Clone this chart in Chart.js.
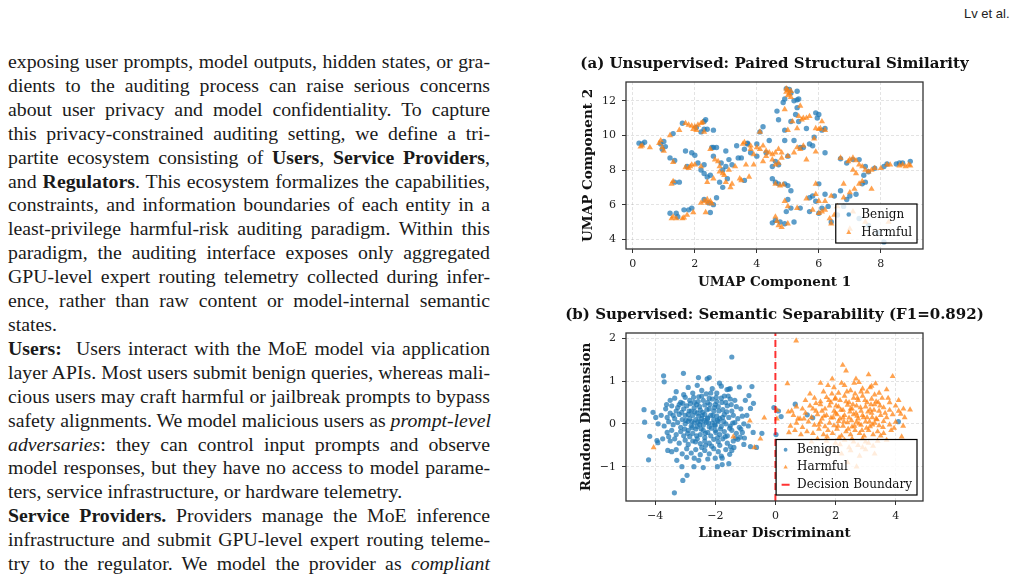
<!DOCTYPE html>
<html lang="en">
<head>
<meta charset="UTF-8">
<title>Unsupervised vs supervised separability of routing telemetry</title>
<script src="https://cdn.jsdelivr.net/npm/chart.js@4.4.1/dist/chart.umd.min.js"></script>
<style>
  html, body { margin: 0; padding: 0; background: #fff; }
  body { width: 1021px; height: 575px; overflow: hidden; position: relative; }
  .running-head {
    position: absolute; left: 964px; top: 6px;
    font-family: 'Liberation Sans', sans-serif; font-size: 13px; color: #222;
  }
  .column {
    position: absolute; left: 8px; top: 50px; width: 482px;
    font-family: 'Liberation Serif', serif; font-size: 19.8px; line-height: 23.9px; color: #1a1a1a;
  }
  .column div { text-align: justify; text-align-last: justify; white-space: nowrap; }
  .column div.end { text-align-last: left; }
  canvas { position: absolute; }
</style>
</head>
<body>
<div class="running-head">Lv et al.</div>

<div class="column">
  <div>exposing user prompts, model outputs, hidden states, or gra-</div>
  <div>dients to the auditing process can raise serious concerns</div>
  <div>about user privacy and model confidentiality. To capture</div>
  <div>this privacy-constrained auditing setting, we define a tri-</div>
  <div>partite ecosystem consisting of <b>Users</b>, <b>Service Providers</b>,</div>
  <div>and <b>Regulators</b>. This ecosystem formalizes the capabilities,</div>
  <div>constraints, and information boundaries of each entity in a</div>
  <div>least-privilege harmful-risk auditing paradigm. Within this</div>
  <div>paradigm, the auditing interface exposes only aggregated</div>
  <div>GPU-level expert routing telemetry collected during infer-</div>
  <div>ence, rather than raw content or model-internal semantic</div>
  <div class="end">states.</div>
  <div><b>Users:</b>&nbsp; Users interact with the MoE model via application</div>
  <div>layer APIs. Most users submit benign queries, whereas mali-</div>
  <div>cious users may craft harmful or jailbreak prompts to bypass</div>
  <div>safety alignments. We model malicious users as <i>prompt-level</i></div>
  <div><i>adversaries</i>: they can control input prompts and observe</div>
  <div>model responses, but they have no access to model parame-</div>
  <div class="end">ters, service infrastructure, or hardware telemetry.</div>
  <div><b>Service Providers.</b> Providers manage the MoE inference</div>
  <div>infrastructure and submit GPU-level expert routing teleme-</div>
  <div>try to the regulator. We model the provider as <i>compliant</i></div>
</div>

<canvas id="umapChart" width="445" height="250" style="left:555px; top:50px;"></canvas>
<canvas id="ldaChart" width="445" height="250" style="left:555px; top:300px;"></canvas>

<script>
// ---- (a) UMAP embedding, [component 1, component 2]
const umapBenign = [
  [0.2,9.55],[0.3,9.5],[0.38,9.6],[0.9,9.5],[1.0,9.65],[0.95,9.2],[1.05,9.35],[1.2,8.7],[1.35,8.55],[1.3,10.1],
  [1.6,10.7],[2.05,10.45],[2.3,10.8],[2.35,10.9],[2.2,10.2],[2.3,10.35],[2.4,10.35],[2.6,10.3],
  [1.75,8.2],[1.9,9.0],[1.7,9.1],[1.35,7.3],[1.5,7.3],
  [1.2,5.5],[1.4,5.5],[1.65,5.7],[1.8,5.7],[1.9,5.8],[1.45,5.3],
  [2.3,6.3],[2.45,6.1],[2.6,6.0],[2.7,6.4],[2.5,5.55],
  [2.0,8.85],[2.1,8.4],[2.2,8.0],[2.3,7.8],[2.4,7.6],[2.5,7.7],[2.6,8.8],[2.6,9.3],[2.7,9.3],[2.85,8.4],
  [2.9,8.0],[3.0,8.2],[3.0,9.1],[3.1,8.6],[3.2,8.3],[3.35,9.4],[3.4,8.7],[3.5,8.7],[3.6,9.2],[3.6,7.4],
  [3.7,9.5],[2.8,7.3],[2.9,7.0],[3.05,7.5],[2.3,8.3],[2.55,9.3],[3.8,9.0],
  [3.7,9.55],[4.0,9.5],[4.0,8.8],[4.1,10.2],[4.2,10.5],[4.4,9.7],[4.5,8.2],[4.7,8.3],[4.6,8.5],[4.9,9.7],
  [5.0,8.8],[5.2,9.7],[5.4,9.3],[5.5,9.3],[5.7,9.5],[4.9,10.3],[4.3,9.0],
  [4.95,12.7],[5.05,12.65],[5.1,12.45],[5.3,12.55],[4.85,11.9],[4.9,12.1],[4.65,11.4],[4.7,10.9],
  [5.2,12.0],[5.3,12.05],[5.35,12.1],[5.3,11.6],[5.25,11.2],[5.35,10.8],[5.1,10.8],[5.6,10.4],
  [5.9,11.3],[6.0,11.2],[5.95,11.0],[6.1,10.3],[6.2,10.4],[5.85,9.9],[5.8,9.4],[6.2,9.0],
  [6.7,8.65],[6.9,8.4],[7.1,8.6],[7.3,8.6],[7.5,8.2],[7.6,7.9],[7.8,8.1],[8.1,8.2],[8.2,8.35],[8.5,8.35],
  [8.6,8.4],[8.7,8.4],[8.95,8.5],[7.45,7.7],[7.5,7.3],
  [4.5,7.5],[4.6,7.3],[4.7,7.2],[4.9,7.2],[5.0,7.1],[5.1,6.8],[5.0,6.3],[4.95,5.6],[5.1,5.8],[5.4,5.8],
  [5.7,6.4],[5.8,6.5],[5.9,6.2],[6.0,7.2],[6.2,6.6],[6.1,5.8],[6.3,5.9],[6.5,6.5],[6.7,6.8],[6.9,6.3],
  [7.0,6.5],[7.2,6.6],[7.4,7.2],[6.8,5.9],[6.4,5.0],[6.6,5.4],[4.5,4.95],[4.6,5.1],[4.75,5.0],[4.9,4.9],
  [5.2,5.0],[8.1,3.85],[6.0,5.5],[5.7,5.6],[7.3,5.2],[7.6,4.8],[7.9,4.4]
];
const umapHarmful = [
  [0.25,9.35],[0.3,9.4],[0.55,9.3],[0.85,9.55],[0.9,9.7],[0.95,9.3],[1.0,9.1],[1.3,8.45],[1.2,10.0],[1.5,10.3],
  [1.7,10.7],[1.8,10.6],[1.9,10.55],[2.0,10.5],[2.1,10.6],[2.2,10.7],[2.25,10.75],[1.95,10.35],[2.05,10.3],[2.3,10.2],
  [1.7,8.15],[1.8,8.1],[1.85,8.2],[1.9,8.3],[1.25,7.2],[1.3,7.35],
  [1.3,5.3],[1.4,5.2],[1.65,5.25],[1.75,5.4],[1.95,5.55],[1.25,5.2],[1.6,5.2],
  [2.2,6.1],[2.3,6.2],[2.4,6.3],[2.5,6.2],[2.55,6.05],[2.35,5.55],[2.4,6.1],
  [2.0,8.3],[2.2,8.2],[2.4,7.3],[2.5,9.2],[2.65,8.6],[2.75,8.5],[2.8,7.9],[2.95,7.7],[3.0,7.3],[3.1,8.0],
  [3.15,7.0],[3.3,8.2],[3.45,7.5],[3.55,9.5],[3.65,8.3],[3.75,7.6],[3.8,9.2],[3.9,8.3],[2.6,7.5],[3.2,7.2],
  [2.8,8.2],[3.5,7.4],[2.9,7.8],
  [4.0,9.3],[4.1,9.2],[4.2,9.4],[4.3,9.1],[4.4,9.0],[4.5,8.9],[4.6,9.0],[4.7,9.2],[4.8,9.0],[4.3,8.8],
  [4.2,8.5],[4.5,8.6],[4.7,8.4],[4.8,8.7],[5.0,8.8],[5.2,9.0],[5.3,9.3],[5.4,9.2],[5.5,9.4],[3.6,9.6],
  [3.8,9.4],[3.9,8.9],[4.6,8.3],[4.1,10.2],
  [4.95,12.5],[5.0,12.6],[5.05,12.4],[5.1,12.55],[5.0,12.3],[4.95,12.7],[5.1,12.2],[4.9,11.5],
  [5.4,11.7],[5.35,11.1],[5.45,10.9],[5.5,11.0],[5.6,11.0],[5.7,11.1],[5.3,10.4],[5.0,10.3],[5.15,10.8],
  [5.9,10.4],[6.0,10.35],[6.1,10.8],[6.2,10.3],[5.85,9.8],[5.9,9.05],[6.05,10.4],[5.6,8.6],
  [6.7,8.7],[6.95,8.5],[7.0,8.6],[7.1,8.7],[7.2,8.55],[7.3,8.3],[7.4,8.2],[7.5,8.0],[7.6,7.9],[7.7,8.0],
  [7.8,8.1],[8.0,8.1],[8.2,8.3],[8.3,8.3],[8.6,8.25],[8.7,8.3],[8.8,8.2],[8.9,8.3],[8.95,8.25],[7.1,8.0],[7.2,7.8],
  [4.6,7.2],[4.75,7.1],[4.85,7.15],[4.6,5.3],[4.7,4.8],[4.8,4.7],[4.65,5.05],[4.9,6.2],[5.0,5.9],[5.3,5.8],
  [5.6,6.35],[5.8,5.7],[6.0,5.5],[6.1,5.6],[6.2,5.7],[6.35,5.2],[6.4,4.9],[6.5,5.4],[6.6,5.9],[6.8,6.4],
  [7.0,6.7],[7.15,6.9],[7.3,7.2],[7.4,7.35],[6.0,6.2],[6.2,6.2],[6.4,6.5],[5.9,6.6],[7.7,6.9],[8.25,5.0],
  [5.9,7.2],[5.0,4.9],[6.8,7.2],[7.1,5.6],[7.5,5.0],[7.0,4.6]
];
const umapXTicks = [0, 2, 4, 6, 8];
const umapYTicks = [4, 6, 8, 10, 12];
const umapXRange = [-0.22, 9.36];
const umapYRange = [3.44, 13.08];

// ---- (b) LDA projection, [linear discriminant, random dimension]
const ldaBenign = [
  [-1.45,1.56],[-3.72,1.12],[-3.7,0.98],[-3.06,1.18],[-2.56,1.08],[-2.27,1.05],[-2.2,1.08],[-1.86,0.95],
  [-1.61,0.8],[-1.55,0.81],[-1.5,0.82],[-1.2,0.86],[-0.78,0.87],[-0.88,0.66],[-0.73,0.48],[-0.83,0.36],
  [-4.37,0.33],[-4.07,0.27],[-3.98,0.15],[-4.35,0.04],[-4.18,-0.29],[-3.94,-0.39],[-3.91,-0.44],[-4.22,-0.84],
  [-3.58,-0.62],[-3.28,-0.85],[-3.11,-1.0],[-3.08,-1.32],[-2.94,-1.2],[-3.36,-1.61],[-2.71,-1.0],[-2.4,-1.02],
  [-1.93,-1.0],[-1.77,-0.95],[-1.55,-0.93],[-1.77,-0.8],[-1.52,-0.71],[-1.5,-0.53],[-0.83,-0.53],[-0.63,-0.55],
  [-0.45,-0.22],[-1.05,-0.48],[-1.32,-0.33],[-1.17,-0.31],[-1.03,-0.33],[0.02,-0.25],[-0.74,-0.2],
  [-0.05,0.38],[0.1,0.3],[0.19,0.17],[0.66,0.46],[1.06,0.21],[1.24,0.14],[4.09,0.05],
  [-3.3,0.75],[-2.9,0.85],[-2.75,0.72],[-2.6,0.9],[-2.45,0.78],[-2.3,0.7],[-2.1,0.82],[-1.95,0.72],[-1.8,0.88],
  [-3.05,0.68],[-2.2,0.6],[-1.7,0.65],
  [-3.5,0.55],[-3.35,0.6],[-3.15,0.5],[-3.0,0.62],[-2.85,0.55],[-2.7,0.5],[-2.55,0.63],[-2.4,0.55],[-2.25,0.5],
  [-2.1,0.58],[-1.95,0.52],[-1.8,0.6],[-1.65,0.5],[-1.5,0.58],[-1.35,0.55],[-2.62,0.45],[-2.0,0.45],
  [-3.65,0.35],[-3.45,0.42],[-3.3,0.3],[-3.2,0.45],[-3.05,0.35],[-2.95,0.42],[-2.8,0.3],[-2.7,0.38],[-2.5,0.32],
  [-2.35,0.44],[-2.2,0.35],[-2.05,0.3],[-1.9,0.4],[-1.75,0.33],[-1.6,0.42],[-1.45,0.3],[-1.3,0.4],[-1.15,0.35],
  [-2.6,0.25],[-2.9,0.22],
  [-3.8,0.2],[-3.6,0.15],[-3.5,0.25],[-3.35,0.12],[-3.2,0.22],[-3.1,0.1],[-3.0,0.2],[-2.85,0.12],[-2.75,0.2],
  [-2.65,0.1],[-2.55,0.18],[-2.45,0.12],[-2.35,0.22],[-2.25,0.14],[-2.15,0.2],[-2.05,0.1],[-1.95,0.18],[-1.85,0.12],
  [-1.7,0.22],[-1.55,0.15],[-1.4,0.2],[-1.25,0.12],[-1.1,0.18],[-0.95,0.2],
  [-3.9,0.0],[-3.7,-0.05],[-3.55,0.05],[-3.4,-0.02],[-3.25,0.03],[-3.15,-0.08],[-3.0,0.0],[-2.9,0.06],[-2.8,-0.05],
  [-2.7,0.02],[-2.6,-0.06],[-2.5,0.05],[-2.4,-0.03],[-2.3,0.04],[-2.2,-0.07],[-2.1,0.02],[-2.0,-0.04],[-1.9,0.05],
  [-1.8,-0.06],[-1.65,0.0],[-1.5,-0.05],[-1.35,0.03],[-1.2,-0.08],[-1.05,0.0],[-0.9,-0.05],
  [-3.6,-0.2],[-3.45,-0.15],[-3.3,-0.25],[-3.15,-0.18],[-3.05,-0.28],[-2.9,-0.15],[-2.75,-0.22],[-2.65,-0.12],
  [-2.5,-0.25],[-2.4,-0.15],[-2.25,-0.2],[-2.15,-0.28],[-2.0,-0.15],[-1.85,-0.25],[-1.7,-0.18],[-1.6,-0.28],
  [-1.45,-0.15],[-1.3,-0.22],[-1.15,-0.12],[-2.85,-0.3],[-2.35,-0.32],
  [-3.5,-0.4],[-3.35,-0.35],[-3.2,-0.45],[-3.0,-0.38],[-2.9,-0.48],[-2.75,-0.4],[-2.6,-0.35],[-2.5,-0.46],
  [-2.35,-0.4],[-2.2,-0.45],[-2.05,-0.36],[-1.9,-0.42],[-1.75,-0.35],[-1.6,-0.45],[-1.4,-0.4],[-1.25,-0.36],[-2.45,-0.55],
  [-3.3,-0.6],[-3.1,-0.7],[-2.95,-0.58],[-2.8,-0.68],[-2.65,-0.6],[-2.5,-0.72],[-2.35,-0.62],[-2.2,-0.7],
  [-2.05,-0.58],[-1.9,-0.65],[-1.8,-0.75],[-1.65,-0.6],[-2.7,-0.8],[-2.25,-0.82],[-3.45,-0.65],[-1.45,-0.62],[-2.95,-0.78],
  [-3.25,0.38],[-3.12,0.27],[-2.98,0.08],[-2.83,0.47],[-2.77,-0.09],[-2.68,0.28],[-2.58,0.05],[-2.52,0.4],[-2.47,-0.12],
  [-2.42,0.27],[-2.37,0.08],[-2.33,-0.22],[-2.28,0.33],[-2.23,0.02],[-2.18,0.45],[-2.13,-0.1],[-2.08,0.2],[-2.03,0.38],
  [-1.98,-0.2],[-1.93,0.08],[-1.88,0.3],[-1.83,-0.12],[-1.78,0.5],[-1.72,0.05],[-1.67,-0.3],[-1.62,0.28],[-1.57,0.65],
  [-1.52,-0.1],[-1.47,0.45],[-1.42,0.02],[-2.92,-0.22],[-2.87,0.3],[-2.62,-0.28],[-2.57,0.52],[-2.32,-0.5],[-2.12,-0.52],
  [-1.97,0.62],[-2.72,0.62],[-3.02,-0.12],[-3.08,0.48],[-3.4,0.2],[-3.55,-0.3],[-2.45,0.65],[-2.15,0.72],[-1.85,-0.5],
  [-2.55,-0.85],[-2.0,-0.8],[-1.38,-0.55],[-1.1,-0.2],[-1.0,0.55],[-3.75,-0.35],[-3.62,0.45],[-2.78,0.05],[-2.52,-0.02],
  [-2.26,0.12],[-2.02,-0.02],[-1.76,0.15],[-2.44,0.2],[-2.66,-0.42],[-1.92,-0.32]
];
const ldaHarmful = [
  [0.69,1.94],[2.24,1.37],[2.35,1.24],[3.1,1.15],[3.9,1.11],[2.68,1.05],[2.78,0.97],[1.89,1.05],[3.33,0.94],
  [0.4,0.94],[1.5,0.95],[4.48,0.33],[4.26,0.35],[4.17,0.23],[4.3,0.15],[-4.05,-0.55],[-1.4,-0.3],[-0.7,-0.55],
  [-0.5,-0.35],[-0.37,0.14],[-0.85,0.07],[0.05,0.32],[0.05,0.12],[0.43,0.28],[0.54,0.3],[0.82,0.12],
  [1.6,0.75],[1.95,0.85],[2.1,0.72],[2.3,0.9],[2.5,0.78],[2.65,0.7],[2.9,0.82],[3.05,0.75],[3.2,0.88],
  [3.45,0.72],[2.2,0.95],[1.75,0.9],[3.7,0.8],
  [1.0,0.55],[1.3,0.6],[1.5,0.52],[1.7,0.62],[1.85,0.5],[2.0,0.6],[2.15,0.55],[2.3,0.65],[2.45,0.5],
  [2.6,0.6],[2.75,0.55],[2.9,0.65],[3.05,0.5],[3.2,0.58],[3.35,0.52],[3.55,0.6],[3.8,0.5],[4.1,0.55],
  [0.9,0.35],[1.15,0.42],[1.35,0.3],[1.5,0.45],[1.65,0.35],[1.8,0.42],[1.95,0.3],[2.1,0.4],[2.25,0.32],
  [2.4,0.44],[2.55,0.35],[2.7,0.42],[2.85,0.3],[3.0,0.4],[3.15,0.33],[3.3,0.45],[3.45,0.3],[3.6,0.38],
  [3.8,0.32],[4.0,0.42],
  [0.6,0.2],[0.75,0.12],[1.0,0.25],[1.2,0.15],[1.4,0.22],[1.55,0.12],[1.7,0.2],[1.85,0.14],[2.0,0.25],
  [2.15,0.12],[2.3,0.2],[2.45,0.14],[2.6,0.22],[2.75,0.12],[2.9,0.2],[3.05,0.15],[3.2,0.25],[3.35,0.12],
  [3.5,0.2],[3.7,0.15],[3.9,0.22],
  [0.5,-0.05],[0.7,0.02],[0.9,-0.08],[1.1,0.05],[1.3,-0.03],[1.5,0.04],[1.65,-0.06],[1.8,0.02],[1.95,-0.04],
  [2.1,0.06],[2.25,-0.05],[2.4,0.03],[2.55,-0.07],[2.7,0.04],[2.85,-0.03],[3.0,0.05],[3.15,-0.06],[3.3,0.02],
  [3.45,-0.04],[3.6,0.06],[3.8,-0.02],[4.0,0.04],[4.25,-0.05],
  [0.45,-0.2],[0.65,-0.15],[0.85,-0.25],[1.05,-0.18],[1.25,-0.22],[1.45,-0.12],[1.6,-0.25],[1.75,-0.15],
  [1.9,-0.22],[2.05,-0.12],[2.2,-0.28],[2.35,-0.18],[2.5,-0.25],[2.65,-0.15],[2.8,-0.22],[2.95,-0.28],
  [3.1,-0.15],[3.25,-0.25],[3.4,-0.18],[3.6,-0.22],[3.85,-0.15],[4.2,-0.3],
  [1.4,-0.35],[1.7,-0.4],[2.0,-0.45],[2.3,-0.38],[2.6,-0.42],[2.9,-0.35],[3.1,-0.45],[3.4,-0.4],[3.7,-0.38],
  [2.15,-0.48],[2.75,-0.5],[3.25,-0.52],[1.2,-0.42],
  [1.8,-0.6],[2.2,-0.7],[2.5,-0.62],[2.8,-0.75],[3.0,-0.6],[2.4,-0.9],[2.7,-1.0],[3.3,-0.7],
  [1.35,0.48],[1.55,0.3],[1.78,0.55],[1.92,0.15],[2.02,0.42],[2.08,-0.05],[2.18,0.32],[2.28,0.05],[2.35,0.52],
  [2.42,-0.12],[2.48,0.28],[2.53,0.08],[2.58,0.45],[2.63,-0.05],[2.68,0.25],[2.73,0.6],[2.78,0.0],[2.83,0.38],
  [2.88,-0.15],[2.93,0.15],[2.98,0.55],[3.03,-0.1],[3.08,0.28],[3.13,0.05],[3.18,0.45],[3.23,-0.02],[3.28,0.32],
  [3.38,0.1],[3.48,0.42],[3.58,-0.08],[3.65,0.25],[3.75,0.6],[3.95,-0.1],[4.1,0.3],[1.25,0.35],[1.45,-0.02],
  [1.62,0.18],[1.72,-0.3],[1.88,0.7],[2.12,-0.32],[2.38,0.75],[2.55,-0.35],[2.85,0.75],[3.0,-0.42],[3.3,0.68],
  [3.5,-0.28],[2.62,0.95],[3.15,0.85],[1.15,0.7],[0.95,0.12],[0.7,0.4],[2.45,-0.55],[2.9,-0.55],[2.25,0.15],
  [2.72,0.18],[3.22,0.15],[2.05,0.22],[3.42,0.5],[1.98,0.58],[2.5,0.35]
];
const ldaXTicks = [-4, -2, 0, 2, 4];
const ldaYTicks = [-1, 0, 1, 2];
const ldaXRange = [-4.97, 4.91];
const ldaYRange = [-1.80, 2.12];
const boundaryX = 0;

const BLUE = 'rgba(31,119,180,0.72)';
const ORANGE = 'rgba(255,127,14,0.72)';
const RED = 'rgba(255,0,0,0.8)';
const SERIF = '"DejaVu Serif", serif';

Chart.defaults.font.family = SERIF;
Chart.defaults.font.size = 11;
Chart.defaults.color = '#222';

const toPts = arr => arr.map(([x, y]) => ({ x, y }));
const minus = v => (v < 0 ? '\u2212' + Math.abs(v) : String(v));

// panel title, centred over the plotting area
const panelTitle = {
  id: 'panelTitle',
  afterDraw(chart, args, opts) {
    const { ctx, chartArea: ca } = chart;
    ctx.save();
    ctx.font = 'bold 15px ' + SERIF;
    ctx.fillStyle = '#111';
    ctx.textAlign = 'center';
    ctx.textBaseline = 'middle';
    ctx.fillText(opts.text, (ca.left + ca.right) / 2, opts.y);
    ctx.restore();
  }
};

// full box around the axes + legend in lower right corner
const frameLegend = {
  id: 'frameLegend',
  afterDraw(chart, args, opts) {
    const { ctx, chartArea: ca } = chart;
    ctx.save();
    ctx.strokeStyle = '#333';
    ctx.lineWidth = 1.3;
    ctx.strokeRect(ca.left, ca.top, ca.right - ca.left, ca.bottom - ca.top);

    const items = chart.data.datasets.map(ds => ({
      label: ds.label,
      style: ds.showLine ? 'dash' : ds.pointStyle,
      color: ds.showLine ? ds.borderColor : ds.backgroundColor
    }));
    ctx.font = '12px ' + SERIF;
    const textW = Math.max(...items.map(it => ctx.measureText(it.label).width));
    const w = opts.textX + textW + 5;
    const h = opts.rowH * items.length + 3;
    const x0 = ca.right - 6 - w;
    const y0 = ca.bottom - 6 - h;
    ctx.fillStyle = 'rgba(255,255,255,0.8)';
    ctx.fillRect(x0, y0, w, h);
    ctx.strokeStyle = '#000';
    ctx.lineWidth = 1.2;
    ctx.strokeRect(x0, y0, w, h);

    items.forEach((it, i) => {
      const cy = y0 + 1.5 + opts.rowH * (i + 0.5);
      const mx = x0 + opts.markX;
      ctx.fillStyle = it.color;
      if (it.style === 'dash') {
        ctx.strokeStyle = it.color;
        ctx.lineWidth = 2;
        ctx.beginPath();
        ctx.moveTo(mx - 4, cy);
        ctx.lineTo(mx + 4, cy);
        ctx.stroke();
      } else if (it.style === 'triangle') {
        const r = opts.markR + 0.6;
        ctx.beginPath();
        ctx.moveTo(mx, cy - r);
        ctx.lineTo(mx + r * 0.866, cy + r / 2);
        ctx.lineTo(mx - r * 0.866, cy + r / 2);
        ctx.closePath();
        ctx.fill();
      } else {
        ctx.beginPath();
        ctx.arc(mx, cy, opts.markR, 0, Math.PI * 2);
        ctx.fill();
      }
      ctx.fillStyle = '#111';
      ctx.textAlign = 'left';
      ctx.textBaseline = 'middle';
      ctx.fillText(it.label, x0 + opts.textX, cy);
    });
    ctx.restore();
  }
};

function axis(range, ticks, title, height, width, titlePad) {
  return {
    type: 'linear',
    min: range[0],
    max: range[1],
    afterBuildTicks: s => { s.ticks = ticks.map(v => ({ value: v })); },
    afterFit: s => {
      if (height) s.height = height;
      if (width) s.width = width;
    },
    grid: { color: 'rgba(0,0,0,0.14)', lineWidth: 0.8, tickLength: 4, tickColor: '#333', tickWidth: 1 },
    border: { display: false, dash: [3, 2] },
    ticks: { padding: height ? 5 : 6, callback: v => minus(v), color: '#222' },
    title: {
      display: true, text: title, color: '#111',
      font: { weight: 'bold', size: 13.5 },
      padding: titlePad
    }
  };
}

function scatterSet(label, pts, color, style, r) {
  return {
    label, data: toPts(pts), backgroundColor: color, borderWidth: 0,
    pointStyle: style, pointRadius: r, pointHoverRadius: r
  };
}

// canvases start at x=555, so 20px left padding puts the y axis box at 575
const PAD = { top: 0, right: 77, bottom: 0, left: 20 };

new Chart(document.getElementById('umapChart'), {
  type: 'scatter',
  data: {
    datasets: [
      Object.assign(scatterSet('Benign', umapBenign, BLUE, 'circle', 2.7), { order: 2 }),
      Object.assign(scatterSet('Harmful', umapHarmful, ORANGE, 'triangle', 3.6), { order: 1 })
    ]
  },
  options: {
    responsive: false,
    animation: false,
    events: [],
    layout: { padding: Object.assign({}, PAD, { top: 32 }) },
    scales: {
      x: axis(umapXRange, umapXTicks, 'UMAP Component 1', 51, 0, { top: 0, bottom: 9 }),
      y: axis(umapYRange, umapYTicks, 'UMAP Component 2', 0, 51, { top: 5, bottom: 0 })
    },
    plugins: {
      legend: { display: false },
      tooltip: { enabled: false },
      panelTitle: { text: '(a) Unsupervised: Paired Structural Similarity', y: 14 },
      frameLegend: { textX: 25.5, markX: 13, markR: 2.3, rowH: 18 }
    }
  },
  plugins: [panelTitle, frameLegend]
});

new Chart(document.getElementById('ldaChart'), {
  type: 'scatter',
  data: {
    datasets: [
      Object.assign(scatterSet('Benign', ldaBenign, BLUE, 'circle', 2.6), { order: 3 }),
      Object.assign(scatterSet('Harmful', ldaHarmful, ORANGE, 'triangle', 3.4), { order: 2 }),
      {
        label: 'Decision Boundary', order: 1,
        data: [{ x: boundaryX, y: ldaYRange[0] }, { x: boundaryX, y: ldaYRange[1] }],
        showLine: true, borderColor: RED, borderWidth: 2, borderDash: [7, 4],
        pointRadius: 0, pointHoverRadius: 0
      }
    ]
  },
  options: {
    responsive: false,
    animation: false,
    events: [],
    layout: { padding: Object.assign({}, PAD, { top: 33 }) },
    scales: {
      x: axis(ldaXRange, ldaXTicks, 'Linear Discriminant', 49, 0, { top: 0, bottom: 8 }),
      y: axis(ldaYRange, ldaYTicks, 'Random Dimension', 0, 51, { top: 3, bottom: 0 })
    },
    plugins: {
      legend: { display: false },
      tooltip: { enabled: false },
      panelTitle: { text: '(b) Supervised: Semantic Separability (F1=0.892)', y: 15 },
      frameLegend: { textX: 21, markX: 9.5, markR: 1.9, rowH: 17.5 }
    }
  },
  plugins: [panelTitle, frameLegend]
});
</script>
</body>
</html>
